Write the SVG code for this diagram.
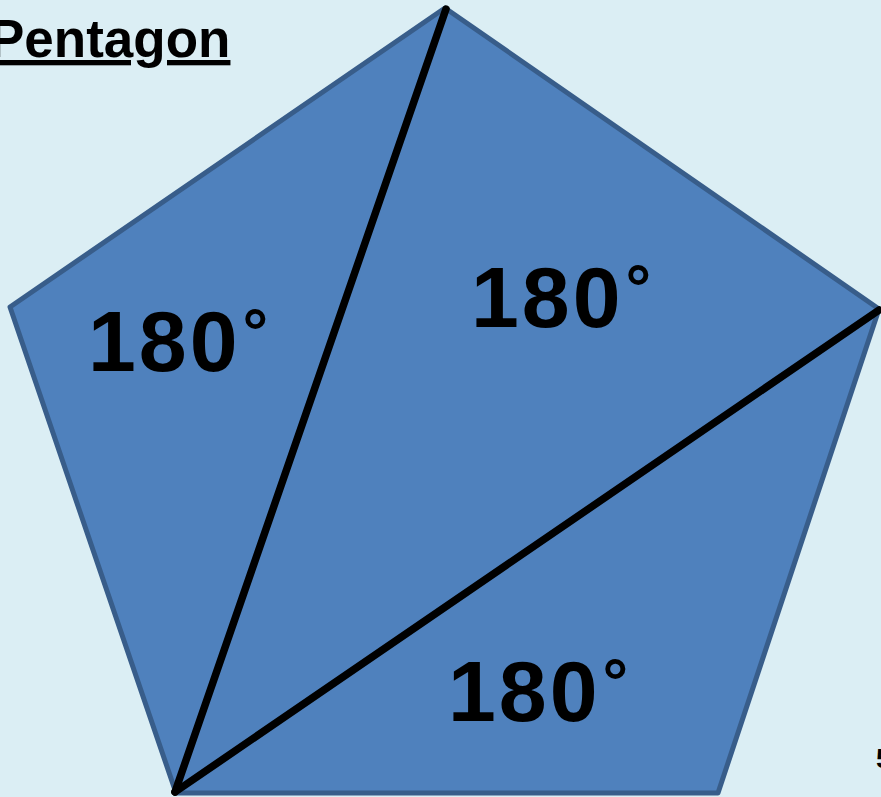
<svg xmlns="http://www.w3.org/2000/svg" width="881" height="797" viewBox="0 0 881 797">
<style>
.bg{fill:#DBEEF4}
.pent{fill:#4F81BD;stroke:#385D8A;stroke-width:5;stroke-linejoin:round}
.diag{stroke:#000;stroke-width:7.5;stroke-linecap:round;fill:none}
.lbl{font-family:"Liberation Sans",Arial,sans-serif;font-weight:bold;font-size:86px;fill:#000;letter-spacing:3px}
.deg{font-size:64px}
.title{font-family:"Liberation Sans",Arial,sans-serif;font-weight:bold;font-size:53px;fill:#000;text-decoration:underline;text-decoration-skip-ink:none}
.num{font-family:"Liberation Sans",Arial,sans-serif;font-weight:bold;font-size:28px;fill:#000}
</style>
<rect class="bg" x="0" y="0" width="881" height="797"/>
<text class="title" x="-11" y="57">Pentagon</text>
<g id="pentagon">
<polygon class="pent" points="445,8 879,309 718,793 176,793 10,307"/>
</g>
<g id="connectors">
<line class="diag" x1="446" y1="9" x2="175" y2="792"/>
<line class="diag" x1="879" y1="310" x2="175" y2="792"/>
</g>
<g id="tri-left"><text class="lbl" x="88" y="371">180<tspan class="deg" dx="2" dy="-17">°</tspan></text></g>
<g id="tri-middle"><text class="lbl" x="471" y="327">180<tspan class="deg" dx="2" dy="-17">°</tspan></text></g>
<g id="tri-bottom"><text class="lbl" x="448" y="721">180<tspan class="deg" dx="2" dy="-17">°</tspan></text></g>
<text class="num" x="876" y="768">5</text>
</svg>
